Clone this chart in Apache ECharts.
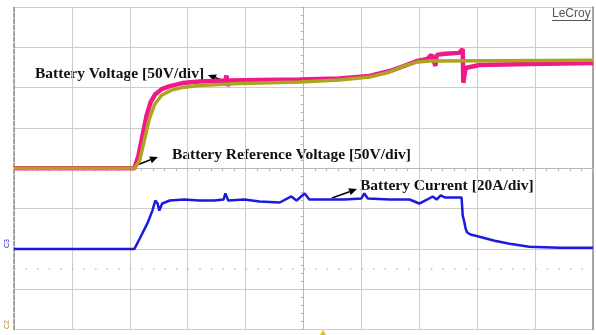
<!DOCTYPE html>
<html><head><meta charset="utf-8">
<script src="https://cdn.jsdelivr.net/npm/echarts@6/dist/echarts.min.js"></script>
<style>html,body{margin:0;padding:0;background:#fff}#c{width:596px;height:335px}</style>
</head><body><div id="c"></div>
<script>
// time in divisions relative to trigger (centre of screen)
var voltT = [-5.00,-2.92,-2.85,-2.78,-2.71,-2.64,-2.56,-2.45,-2.31,-2.09,-1.80,-1.35,-1.33,-1.31,-1.28,-0.76,-0.07,0.62,1.14,1.49,1.74,1.97,2.14,2.21,2.28,2.30,2.44,2.69,2.75,2.76,2.80,3.04,3.90,5.00];
var voltV = [0,0,15.6,40.6,65.6,81.9,91.9,98.1,101.9,105.6,107.5,108.8,115,102,108.8,109.4,110,111.3,114.4,120.6,126.9,133.1,135.6,140.6,127,140.6,141.9,143.1,148,106,124.4,128.1,129.4,130.6];
var refT = [-5.00,-2.92,-2.83,-2.75,-2.66,-2.57,-2.45,-2.28,-2.06,-1.80,-1.11,-0.07,0.62,1.14,1.49,1.74,1.97,2.18,5.00];
var refV = [0,0,9.4,34.4,61.9,79.4,90.6,96.9,100.6,102.5,105,106.9,109.4,113.1,119.4,126.9,131.9,133.1,133.8];
var curT = [-5.00,-2.92,-2.83,-2.69,-2.61,-2.56,-2.52,-2.49,-2.44,-2.31,-2.06,-1.80,-1.54,-1.38,-1.35,-1.30,-1.02,-0.76,-0.41,-0.21,-0.12,0.02,0.10,0.45,0.71,1.00,1.05,1.11,1.49,1.83,2.00,2.14,2.23,2.30,2.37,2.44,2.73,2.75,2.78,2.80,2.83,2.90,3.04,3.30,3.56,3.90,4.42,5.00];
var curA = [0,0,5,13,19,24,22.5,19,22.5,24,24.5,24,24,24.5,27.5,24,24.5,23.5,23,26,24,27.5,24.5,24.5,24.5,25,27.5,25,24.5,24.5,22.5,24.5,26,24.5,26.5,25.5,25.5,16.5,13,10,8,7,6,4,2.5,1,0.5,0.5];
var triggerLevelA = -10;

function pairs(a,b){return a.map(function(v,i){return [v,b[i]];});}

var chart = echarts.init(document.getElementById('c'), null, {renderer:'canvas'});
var gridCol = '#cdcdcd';

function arrow(x1,y1,x2,y2){
  var ang = Math.atan2(y2-y1,x2-x1), L=8, W=3.6;
  var bx = x2 - L*Math.cos(ang), by = y2 - L*Math.sin(ang);
  var px = -Math.sin(ang)*W, py = Math.cos(ang)*W;
  return [
    {type:'line', shape:{x1:x1,y1:y1,x2:bx,y2:by}, style:{stroke:'#000',lineWidth:1.6}},
    {type:'polygon', shape:{points:[[x2,y2],[bx+px,by+py],[bx-px,by-py]]}, style:{fill:'#000'}}
  ];
}
var lblFont = 'bold 15.5px "Liberation Serif", "DejaVu Serif", serif';
var graphics = [
  {type:'text', left:35, top:66, style:{text:'Battery Voltage [50V/div]', font:lblFont, fill:'#111'}},
  {type:'text', left:172, top:147, style:{text:'Battery Reference Voltage [50V/div]', font:lblFont, fill:'#111'}},
  {type:'text', left:360, top:178, style:{text:'Battery Current [20A/div]', font:lblFont, fill:'#111'}},
  {type:'text', left:552, top:8, style:{text:'LeCroy', font:'12px "Liberation Sans", Arial, sans-serif', fill:'#555'}},
  {type:'line', shape:{x1:552,y1:20.5,x2:591,y2:20.5}, style:{stroke:'#555',lineWidth:1}},
  {type:'text', x:4, y:248, rotation:Math.PI/2, style:{text:'C3', font:'7px "Liberation Sans", sans-serif', fill:'#2a2ad8'}},
  {type:'text', x:4, y:329, rotation:Math.PI/2, style:{text:'C2', font:'7px "Liberation Sans", sans-serif', fill:'#d08a20'}},
  {type:'polygon', shape:{points:[[320,335],[326,335],[323,330]]}, style:{fill:'#d8c820'}}
].concat(arrow(227,82,208,75)).concat(arrow(137,165,158,157)).concat(arrow(332,198,357,189));

chart.setOption({
  animation:false,
  backgroundColor:'#fff',
  grid:{left:14, right:3, top:7, bottom:5.5, show:false},
  xAxis:[{type:'value', min:-5, max:5, interval:1,
    axisLine:{show:true, onZero:true, lineStyle:{color:'#b8b8b8', width:1}},
    axisTick:{show:true, length:3, lineStyle:{color:'#b8b8b8'}},
    minorTick:{show:true, splitNumber:5, length:3, lineStyle:{color:'#b8b8b8'}},
    axisLabel:{show:false},
    splitLine:{show:true, lineStyle:{color:gridCol, width:1}}}],
  yAxis:[
    {type:'value', min:-200, max:200, interval:50,
      axisLine:{show:true, onZero:true, lineStyle:{color:'#b8b8b8', width:1}},
      axisTick:{show:true, length:3, lineStyle:{color:'#b8b8b8'}},
      minorTick:{show:true, splitNumber:5, length:3, lineStyle:{color:'#b8b8b8'}},
      axisLabel:{show:false},
      splitLine:{show:true, lineStyle:{color:gridCol, width:1}}},
    {type:'value', min:-40, max:120, interval:20, position:'right',
      axisLine:{show:true, onZero:false, lineStyle:{color:'#8c8c8c', width:1.5}},
      axisTick:{show:false}, axisLabel:{show:false}, splitLine:{show:false}},
    {type:'value', min:0, max:1, position:'left',
      axisLine:{show:true, onZero:false, lineStyle:{color:'#8a8a8a', width:1.5, type:[4,2]}},
      axisTick:{show:false}, axisLabel:{show:false}, splitLine:{show:false}}
  ],
  series:[
    {type:'line', name:'Battery Voltage', yAxisIndex:0, data:pairs(voltT,voltV), showSymbol:false,
      lineStyle:{color:'#f0188a', width:4.5}, itemStyle:{color:'#f0188a'}},
    {type:'line', name:'Battery Reference Voltage', yAxisIndex:0, data:pairs(refT,refV), showSymbol:false,
      lineStyle:{color:'#aca41c', width:3.5}, itemStyle:{color:'#aca41c'}},
    {type:'line', name:'Battery Current', yAxisIndex:1, data:pairs(curT,curA), showSymbol:false,
      lineStyle:{color:'#1a1ae0', width:2.5}, itemStyle:{color:'#1a1ae0'},
      markLine:{silent:true, symbol:'none', label:{show:false},
        lineStyle:{color:'#bdbdbd', type:[1.5,10.08], width:1.5},
        data:[{yAxis:triggerLevelA}]}}
  ],
  graphic:graphics
});
</script></body></html>
